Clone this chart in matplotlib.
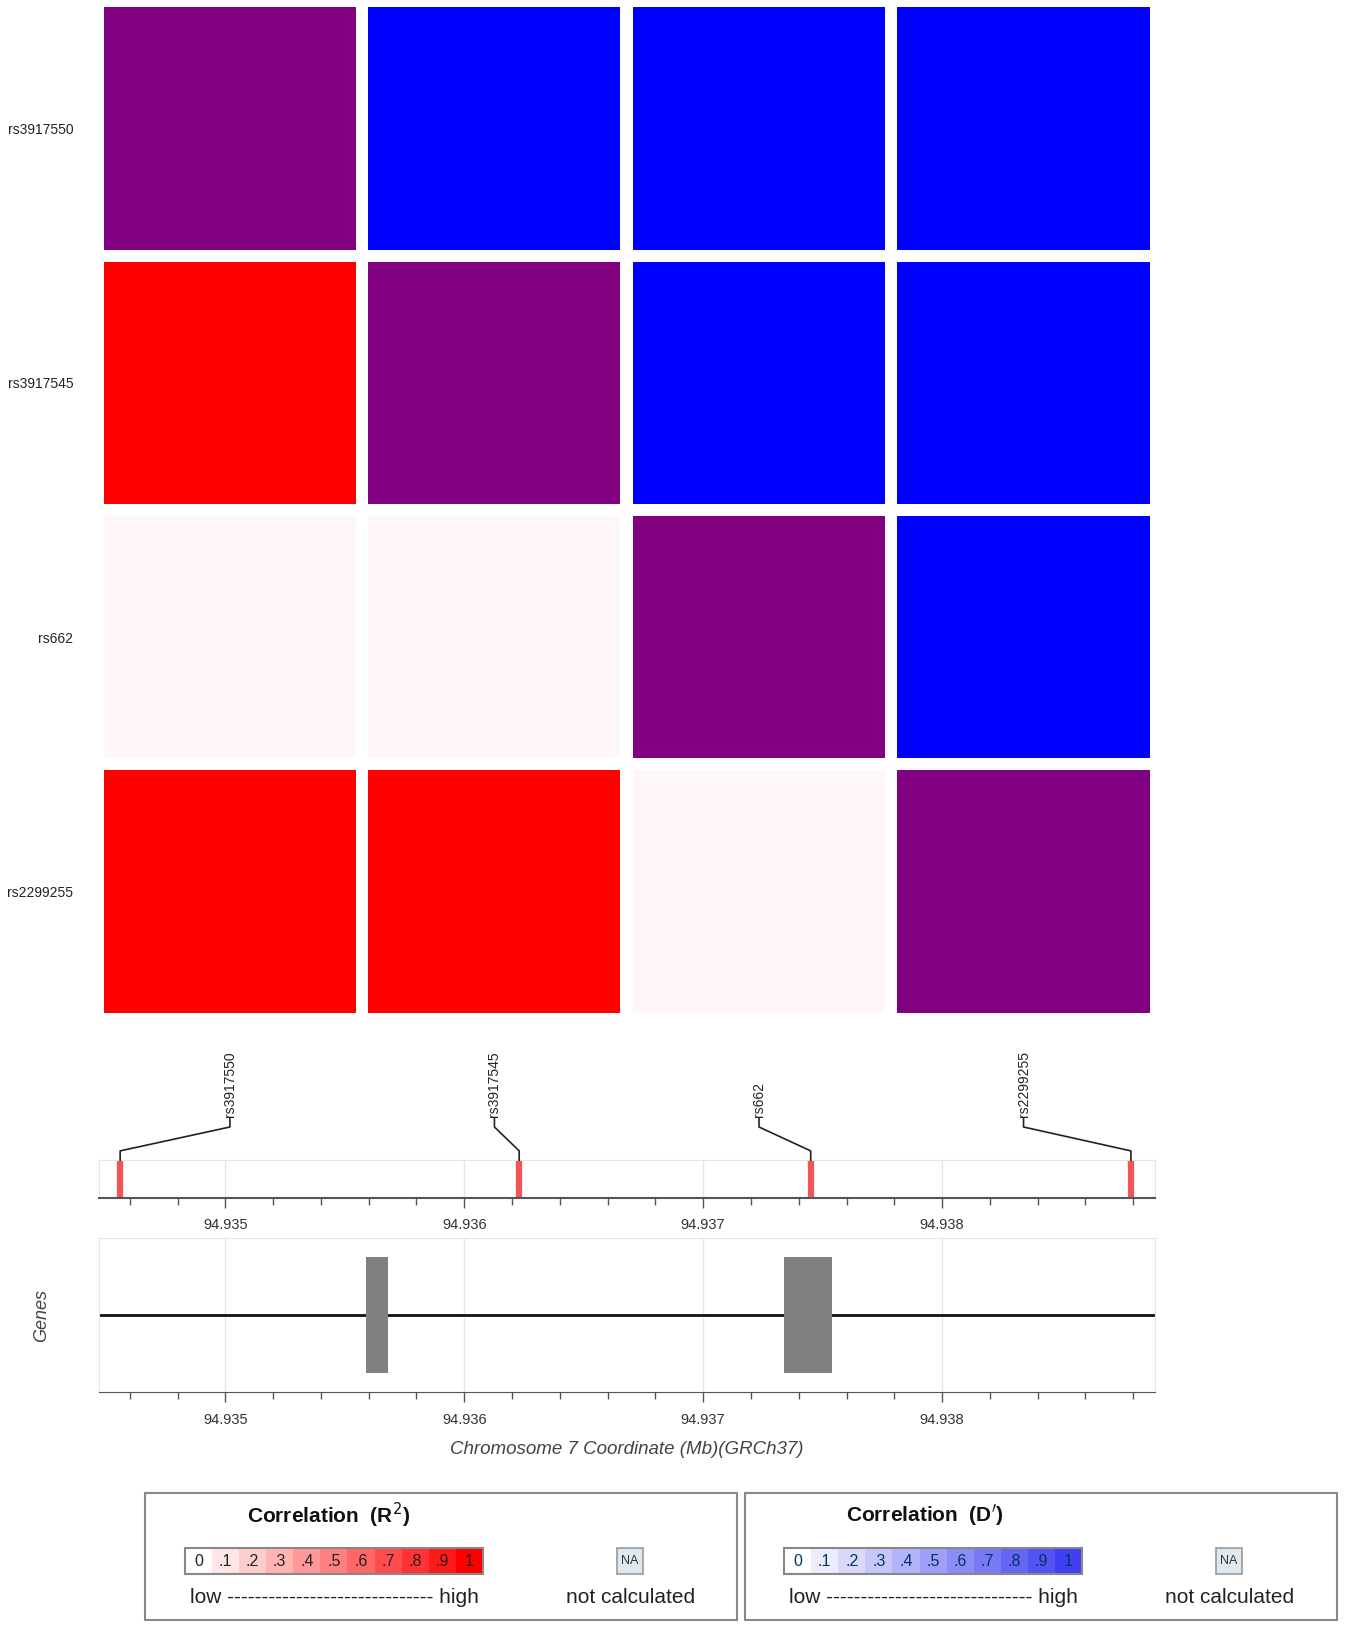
import matplotlib
matplotlib.use("Agg")
import matplotlib.pyplot as plt
from matplotlib.patches import Rectangle
import numpy as np

snps = ["rs3917550", "rs3917545", "rs662", "rs2299255"]
snp_pos = [94.93456, 94.93623, 94.93745, 94.93879]
# matrix[row][col]: lower triangle R2, upper triangle D', diagonal = self
r2 = [[None, None, None, None],
      [1.0, None, None, None],
      [0.03, 0.03, None, None],
      [1.0, 1.0, 0.03, None]]
dprime = [[None, 1.0, 1.0, 1.0],
          [None, None, 1.0, 1.0],
          [None, None, None, 1.0],
          [None, None, None, None]]
exons = [(94.93559, 94.93568), (94.93734, 94.93754)]
xmin, xmax = 94.93447, 94.93889
major_ticks = [94.935, 94.936, 94.937, 94.938]
legend_vals = [0, .1, .2, .3, .4, .5, .6, .7, .8, .9, 1]
legend_lbls = ["0", ".1", ".2", ".3", ".4", ".5", ".6", ".7", ".8", ".9", "1"]

W, H = 1300, 1576
def fx(x): return x / W
def fy(y): return 1 - y / H

fig = plt.figure(figsize=(13.5, 16.37), dpi=100)
plt.rcParams['font.family'] = ['Liberation Sans', 'DejaVu Sans']

def red(v): return (1, 1 - v, 1 - v)
def blue(v): return (1 - v, 1 - v, 1)
def blue_leg(v): return (1 - 0.75 * v, 1 - 0.75 * v, 1 - 0.05 * v)

# heatmap
hl, hr, ht, hb = 100, 1107, 7, 975
ax = fig.add_axes([fx(hl), fy(hb), fx(hr - hl), (hb - ht) / H])
g = 12 / 254.75
n = len(snps)
for i in range(n):
    for j in range(n):
        if i == j:
            c = "#800080"
        elif i > j:
            c = red(r2[i][j])
        else:
            c = blue(dprime[i][j])
        ax.add_patch(Rectangle((j, n - 1 - i), 1 - g, 1 - g, color=c, lw=0))
ax.set_xlim(0, n - g)
ax.set_ylim(0, n - g)
ax.set_xticks([])
ax.set_yticks([n - 1 - i + (1 - g) / 2 for i in range(n)])
ax.set_yticklabels(snps, fontsize=10, color="#222222")
ax.tick_params(axis='y', length=0, pad=22)
for s in ax.spines.values():
    s.set_visible(False)

# track
tl, tr = 95, 1112
def gx(p):
    return tl + (p - xmin) / (xmax - xmin) * (tr - tl)

tax = fig.add_axes([fx(tl), fy(1153), fx(tr - tl), 36 / H])
for p in snp_pos:
    tax.axvline(p, color="#f25555", lw=4.5)
for t in major_ticks:
    tax.axvline(t, color="#e6e6e6", lw=1, zorder=0)
tax.set_xlim(xmin, xmax)
tax.set_ylim(0, 1)
tax.set_yticks([])
tax.set_xticks(major_ticks)
tax.set_xticks(np.arange(94.9346, 94.9389, 0.0002), minor=True)
tax.set_xticklabels([f"{t:.3f}" for t in major_ticks], fontsize=10.5, color="#333333")
tax.tick_params(axis='x', which='major', length=7, width=1, color="#555555", pad=8)
tax.tick_params(axis='x', which='minor', length=5, width=1, color="#555555")
for k in ['top', 'left', 'right']:
    tax.spines[k].set_color("#e6e6e6")
tax.spines['bottom'].set_color("#555555")
tax.spines['bottom'].set_linewidth(1.5)

# connectors and labels
cax = fig.add_axes([0, 0, 1, 1], facecolor='none')
cax.set_xlim(0, W); cax.set_ylim(H, 0); cax.axis('off')
pitch = (hr - hl) / (n - g)
for k, (name, p) in enumerate(zip(snps, snp_pos)):
    lx = hl + pitch * (k + (1 - g) / 2)
    sx = gx(p)
    cax.plot([lx, lx, sx, sx], [1077, 1085, 1108, 1117], color="#222222", lw=1.2)
    cax.text(lx, 1075, name, rotation=90, ha='center', va='bottom', fontsize=10, color="#222222")

# genes
gax = fig.add_axes([fx(tl), fy(1340), fx(tr - tl), 148 / H])
gax.axhline(0.5, color="#111111", lw=2)
for a, b in exons:
    gax.add_patch(Rectangle((a, 0.12), b - a, 0.76, color="#808080", lw=0, zorder=3))
for t in major_ticks:
    gax.axvline(t, color="#e6e6e6", lw=1, zorder=0)
gax.set_xlim(xmin, xmax); gax.set_ylim(0, 1)
gax.set_yticks([])
gax.set_xticks(major_ticks)
gax.set_xticks(np.arange(94.9346, 94.9389, 0.0002), minor=True)
gax.set_xticklabels([f"{t:.3f}" for t in major_ticks], fontsize=10.5, color="#333333")
gax.tick_params(axis='x', which='major', length=7, width=1, color="#555555", pad=8)
gax.tick_params(axis='x', which='minor', length=5, width=1, color="#555555")
for k in ['top', 'left', 'right']:
    gax.spines[k].set_color("#e6e6e6")
gax.spines['bottom'].set_color("#555555")
gax.set_ylabel("Genes", fontsize=13, style='italic', color="#444444", labelpad=35)
gax.set_xlabel("Chromosome 7 Coordinate (Mb)(GRCh37)", fontsize=13.5, style='italic',
               color="#444444", labelpad=10)

# legends
def legend(x0, title, cfun, tc):
    cax.add_patch(Rectangle((x0, 1437), 570, 123, fill=False, ec="#888888", lw=1.5))
    cax.text(x0 + 98, 1459, title, fontsize=15, fontweight='bold', va='center', color="#111111")
    sx0, sw = x0 + 38, 287
    cw = sw / len(legend_vals)
    for i, (v, l) in enumerate(zip(legend_vals, legend_lbls)):
        cax.add_patch(Rectangle((sx0 + i * cw, 1490), cw, 25, color=cfun(v), lw=0))
        cax.text(sx0 + (i + 0.5) * cw, 1503, l, ha='center', va='center', fontsize=11.5, color=tc)
    cax.add_patch(Rectangle((sx0, 1490), sw, 25, fill=False, ec="#888888", lw=1.5))
    cax.add_patch(Rectangle((x0 + 454, 1490), 25, 25, fc="#dde8f0", ec="#999999", lw=1.2))
    cax.text(x0 + 466.5, 1503, "NA", ha='center', va='center', fontsize=9, color="#333333")
    cax.text(sx0 + 5, 1538, "low ------------------------------ high", fontsize=15, va='center', color="#222222")
    cax.text(x0 + 467, 1538, "not calculated", fontsize=15, va='center', ha='center', color="#222222")

legend(140, "Correlation  (R$^2$)", red, "#222222")
legend(717, "Correlation  (D$'$)", blue_leg, "#003366")

fig.savefig("out.png", dpi=100)
